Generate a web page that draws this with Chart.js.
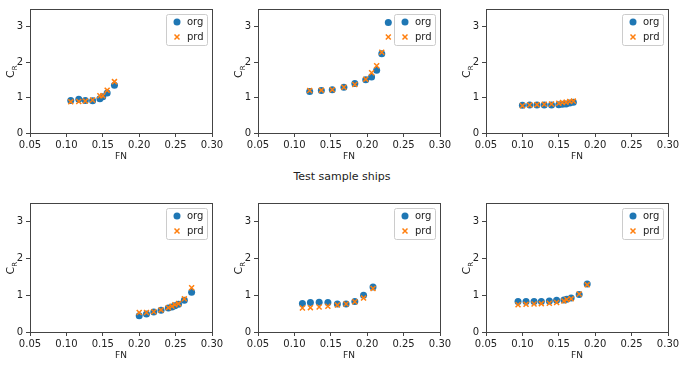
<!DOCTYPE html>
<html>
<head>
<meta charset="utf-8">
<script src="https://cdn.jsdelivr.net/npm/chart.js@4.4.0/dist/chart.umd.min.js"></script>
<style>
body { margin: 0; background: #fff; width: 684px; height: 366px; position: relative; overflow: hidden; font-family: "DejaVu Sans", sans-serif; }
canvas { position: absolute; }
#title { position: absolute; top: 170px; left: 0; width: 684px; text-align: center; font-size: 11px; color: #222; }
</style>
</head>
<body>
<canvas id="c1" width="228" height="165" style="left:0;top:0"></canvas>
<canvas id="c2" width="228" height="165" style="left:228px;top:0"></canvas>
<canvas id="c3" width="228" height="165" style="left:456px;top:0"></canvas>
<div id="title">Test sample ships</div>
<canvas id="c4" width="228" height="176" style="left:0;top:190px"></canvas>
<canvas id="c5" width="228" height="176" style="left:228px;top:190px"></canvas>
<canvas id="c6" width="228" height="176" style="left:456px;top:190px"></canvas>
<script>
// tick labels
const xTicks = [0.05, 0.10, 0.15, 0.20, 0.25, 0.30];
const yTicks = [0, 1, 2, 3];

// ship 1
const fn1  = [0.106, 0.117, 0.126, 0.136, 0.146, 0.150, 0.156, 0.166];
const org1 = [0.92, 0.95, 0.92, 0.91, 0.97, 1.02, 1.13, 1.35];
const prd1 = [0.88, 0.89, 0.90, 0.93, 1.05, 1.05, 1.21, 1.45];
// ship 2
const fn2  = [0.121, 0.137, 0.152, 0.168, 0.183, 0.198, 0.206, 0.213, 0.220, 0.229];
const org2 = [1.17, 1.20, 1.22, 1.29, 1.40, 1.50, 1.58, 1.77, 2.24, 3.12];
const prd2 = [1.20, 1.21, 1.22, 1.29, 1.37, 1.52, 1.70, 1.90, 2.28, 2.71];
// ship 3
const fn3  = [0.100, 0.110, 0.120, 0.130, 0.140, 0.150, 0.155, 0.160, 0.165, 0.170];
const org3 = [0.78, 0.79, 0.79, 0.79, 0.79, 0.80, 0.81, 0.82, 0.85, 0.87];
const prd3 = [0.77, 0.79, 0.80, 0.81, 0.82, 0.84, 0.86, 0.87, 0.89, 0.90];
// ship 4
const fn4  = [0.200, 0.210, 0.220, 0.230, 0.240, 0.245, 0.249, 0.254, 0.262, 0.272];
const org4 = [0.44, 0.49, 0.54, 0.59, 0.65, 0.68, 0.71, 0.75, 0.86, 1.08];
const prd4 = [0.53, 0.53, 0.55, 0.60, 0.66, 0.70, 0.74, 0.77, 0.90, 1.20];
// ship 5
const fn5  = [0.111, 0.122, 0.134, 0.146, 0.159, 0.171, 0.183, 0.195, 0.208];
const org5 = [0.77, 0.80, 0.81, 0.80, 0.76, 0.76, 0.83, 1.00, 1.22];
const prd5 = [0.65, 0.66, 0.68, 0.70, 0.73, 0.76, 0.82, 0.92, 1.18];
// ship 6
const fn6  = [0.094, 0.105, 0.116, 0.126, 0.137, 0.147, 0.157, 0.161, 0.167, 0.178, 0.189];
const org6 = [0.83, 0.83, 0.83, 0.83, 0.84, 0.86, 0.87, 0.89, 0.92, 1.02, 1.30];
const prd6 = [0.74, 0.75, 0.76, 0.77, 0.78, 0.80, 0.84, 0.88, 0.90, 1.03, 1.28];

const BLUE = '#1f77b4', ORANGE = '#ff7f0e', INK = '#222', AXIS = '#444';

// box round the plot area
const frame = {
    id: 'frame',
    afterDraw(chart) {
        const a = chart.chartArea, ctx = chart.ctx;
        ctx.save();
        ctx.strokeStyle = AXIS;
        ctx.lineWidth = 1;
        ctx.strokeRect(a.left + 0.5, a.top + 0.5, a.right - a.left, a.bottom - a.top);
        ctx.restore();
    }
};

// C with subscript R, rotated
const yLabel = {
    id: 'yLabel',
    afterDraw(chart) {
        const a = chart.chartArea, ctx = chart.ctx;
        ctx.save();
        ctx.translate(11, (a.top + a.bottom) / 2);
        ctx.rotate(-Math.PI / 2);
        ctx.fillStyle = INK;
        ctx.textBaseline = 'middle';
        ctx.textAlign = 'left';
        ctx.font = '11px "DejaVu Sans"';
        const w = ctx.measureText('C').width;
        ctx.fillText('C', -7, 0);
        ctx.font = '7px "DejaVu Sans"';
        ctx.fillText('R', -7 + w, 4);
        ctx.restore();
    }
};

// matplotlib style legend in the top right corner
const legendBox = {
    id: 'legendBox',
    afterDatasetsDraw(chart) {
        const a = chart.chartArea, ctx = chart.ctx;
        const x = a.right - 46, y = a.top + 5, w = 41, h = 31;
        ctx.save();
        ctx.fillStyle = 'rgba(255,255,255,0.85)';
        ctx.strokeStyle = '#ccc';
        ctx.lineWidth = 1;
        ctx.beginPath();
        ctx.roundRect(x + 0.5, y + 0.5, w, h, 2);
        ctx.fill();
        ctx.stroke();
        // org marker
        ctx.fillStyle = BLUE;
        ctx.beginPath();
        ctx.arc(x + 11, y + 8, 3.5, 0, Math.PI * 2);
        ctx.fill();
        // prd marker
        ctx.strokeStyle = ORANGE;
        ctx.lineWidth = 1.5;
        ctx.beginPath();
        ctx.moveTo(x + 8.5, y + 20.5); ctx.lineTo(x + 13.5, y + 25.5);
        ctx.moveTo(x + 13.5, y + 20.5); ctx.lineTo(x + 8.5, y + 25.5);
        ctx.stroke();
        ctx.fillStyle = INK;
        ctx.font = '10px "DejaVu Sans"';
        ctx.textBaseline = 'middle';
        ctx.fillText('org', x + 21, y + 8);
        ctx.fillText('prd', x + 21, y + 23);
        ctx.restore();
    }
};

function pts(xs, ys) {
    return xs.map((v, i) => ({ x: v, y: ys[i] }));
}

function makeChart(id, fn, org, prd, padTop, axisH, titleBottom) {
    new Chart(document.getElementById(id), {
        type: 'scatter',
        data: {
            datasets: [
                { label: 'org', data: pts(fn, org), pointStyle: 'circle', pointRadius: 3.5,
                  backgroundColor: BLUE, borderWidth: 0, order: 2 },
                { label: 'prd', data: pts(fn, prd), pointStyle: 'crossRot', pointRadius: 3.5,
                  borderColor: ORANGE, backgroundColor: ORANGE, borderWidth: 1.5, order: 1 }
            ]
        },
        options: {
            responsive: false,
            animation: false,
            devicePixelRatio: 1,
            layout: { padding: { top: padTop, right: 16, left: 0, bottom: 0 } },
            plugins: { legend: { display: false }, tooltip: { enabled: false } },
            scales: {
                x: {
                    type: 'linear', min: 0.05, max: 0.30,
                    afterBuildTicks: s => { s.ticks = xTicks.map(v => ({ value: v })); },
                    afterFit: s => { s.height = axisH; },
                    ticks: { color: INK, font: { size: 10, family: 'DejaVu Sans' }, padding: 2,
                             callback: v => v.toFixed(2), maxRotation: 0 },
                    grid: { drawOnChartArea: false, tickLength: 4, color: AXIS },
                    border: { color: AXIS },
                    title: { display: true, text: 'FN', color: INK, padding: { top: 0, bottom: titleBottom },
                             font: { size: 9, family: 'DejaVu Sans' } }
                },
                y: {
                    min: 0, max: 3.5,
                    afterBuildTicks: s => { s.ticks = yTicks.map(v => ({ value: v })); },
                    afterFit: s => { s.width = 30; },
                    ticks: { color: INK, font: { size: 10, family: 'DejaVu Sans' }, padding: 3 },
                    grid: { drawOnChartArea: false, tickLength: 4, color: AXIS },
                    border: { color: AXIS }
                }
            }
        },
        plugins: [frame, yLabel, legendBox]
    });
}

makeChart('c1', fn1, org1, prd1, 4, 32, 3);
makeChart('c2', fn2, org2, prd2, 4, 32, 3);
makeChart('c3', fn3, org3, prd3, 4, 32, 3);
makeChart('c4', fn4, org4, prd4, 13, 34, 5);
makeChart('c5', fn5, org5, prd5, 13, 34, 5);
makeChart('c6', fn6, org6, prd6, 13, 34, 5);
</script>
</body>
</html>
